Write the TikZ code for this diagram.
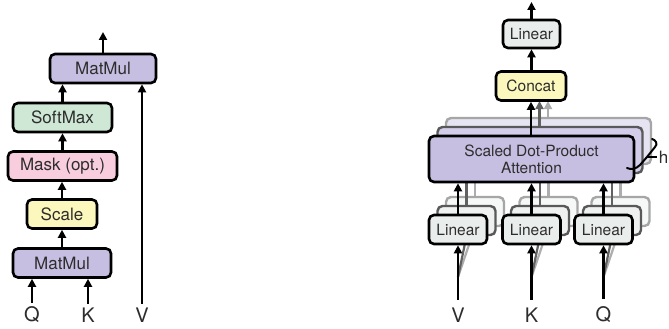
\documentclass[tikz,border=0pt]{standalone}
\usepackage{fontspec}
\setmainfont{TeX Gyre Heros}
\usetikzlibrary{arrows.meta}

\definecolor{mmfill}{RGB}{199,191,225}
\definecolor{mmfillB}{RGB}{212,205,233}
\definecolor{mmfillC}{RGB}{230,227,242}
\definecolor{smfill}{RGB}{206,232,213}
\definecolor{mkfill}{RGB}{248,205,222}
\definecolor{scfill}{RGB}{252,247,189}
\definecolor{lnfill}{RGB}{233,237,235}
\definecolor{lnfillB}{RGB}{238,241,240}
\definecolor{lnfillC}{RGB}{246,247,247}
\definecolor{txt}{RGB}{45,45,45}

\tikzset{
  blk/.style={draw=black, line width=2.6pt, rounded corners=5pt, text=txt,
              inner sep=0pt, minimum height=29pt},
  lfont/.style={font=\fontsize{17}{20}\selectfont},
  rfont/.style={font=\fontsize{15.5}{18}\selectfont},
  lbl/.style={text=txt, font=\fontsize{20}{22}\selectfont, inner sep=0pt},
  arr/.style={line width=2.2pt, -{Triangle[length=8pt,width=8pt]}},
  ghostB/.style={draw=black!65, line width=2.4pt, rounded corners=5pt},
  ghostC/.style={draw=black!35, line width=2.4pt, rounded corners=5pt},
  arrB/.style={arr, draw=black!62, fill=black!62},
  arrC/.style={arr, draw=black!32, fill=black!32},
}

\begin{document}
\begin{tikzpicture}[x=1pt, y=-1pt]
\clip (0,0) rectangle (669,329);

% ---------- Scaled dot-product attention ----------
\node[blk, lfont, fill=mmfill, minimum width=106pt] (mmtop) at (103,68.5) {MatMul};
\node[blk, lfont, fill=smfill, minimum width=99pt]  (soft)  at (62.5,117.5) {SoftMax};
\node[blk, lfont, fill=mkfill, minimum width=109pt] (mask)  at (62.5,166) {Mask (opt.)};
\node[blk, lfont, fill=scfill, minimum width=70pt]  (scale) at (62,214) {Scale};
\node[blk, lfont, fill=mmfill, minimum width=98pt]  (mmbot) at (62,263) {MatMul};

\node[lbl] (q1) at (32,315) {Q};
\node[lbl] (k1) at (88,315) {K};
\node[lbl] (v1) at (142,315) {V};
\coordinate (outL) at (103,32);

\draw[arr] (mmtop.north) -- (outL);
\draw[arr] (soft.north) -- (soft.north |- mmtop.south);
\draw[arr] (mask.north) -- (mask.north |- soft.south);
\draw[arr] (scale.north) -- (scale.north |- mask.south);
\draw[arr] (mmbot.north) -- (mmbot.north |- scale.south);
\draw[arr] (q1.north) ++(0,-4) -- (q1.north |- mmbot.south);
\draw[arr] (k1.north) ++(0,-4) -- (k1.north |- mmbot.south);
\draw[arr] (v1.north) ++(0,-4) -- (v1.north |- mmtop.south);

% ---------- Multi-head attention ----------
\node[lbl] (v2) at (458,315) {V};
\node[lbl] (k2) at (531.5,315) {K};
\node[lbl] (q2) at (603.5,315) {Q};
\foreach \s/\x in {v2/458,k2/531.5,q2/603.5}
  \coordinate (\s fork) at (\x,277);

% third head (furthest back)
\begin{scope}[shift={(17,-18)}]
  \node[ghostC, fill=mmfillC, minimum width=205pt, minimum height=46pt] (sdpaC) at (531.5,159) {};
  \foreach \x/\n in {458/vC,531.5/kC,603.5/qC}
    \node[ghostC, fill=lnfillC, minimum width=58pt, minimum height=29pt] (\n) at (\x,229.5) {};
\end{scope}
\foreach \n/\s in {vC/v2,kC/k2,qC/q2} {
  \draw[arrC] (\n.north) -- (\n.north |- sdpaC.south);
  \draw[arrC] (\s fork) -- (\n.south);
}
\draw[arrC] (sdpaC.north -| 548,0) -- (548,101);

% second head
\begin{scope}[shift={(8.5,-9)}]
  \node[ghostB, fill=mmfillB, minimum width=205pt, minimum height=46pt] (sdpaB) at (531.5,159) {};
  \foreach \x/\n in {458/vB,531.5/kB,603.5/qB}
    \node[ghostB, fill=lnfillB, minimum width=58pt, minimum height=29pt] (\n) at (\x,229.5) {};
\end{scope}
\foreach \n/\s in {vB/v2,kB/k2,qB/q2} {
  \draw[arrB] (\n.north) -- (\n.north |- sdpaB.south);
  \draw[arrB] (\s fork) -- (\n.south);
}
\draw[arrB] (sdpaB.north -| 539.5,0) -- (539.5,101);

% front head
\node[blk, rfont, fill=mmfill, minimum width=205pt, minimum height=46pt, align=center]
  (sdpa) at (531.5,159) {Scaled Dot-Product\\[-1pt]Attention};
\node[blk, rfont, fill=lnfill, minimum width=58pt] (linv) at (458,229.5) {Linear};
\node[blk, rfont, fill=lnfill, minimum width=58pt] (link) at (531.5,229.5) {Linear};
\node[blk, rfont, fill=lnfill, minimum width=58pt] (linq) at (603.5,229.5) {Linear};
\node[blk, rfont, fill=scfill, minimum width=70pt] (concat) at (531,86) {Concat};
\node[blk, rfont, fill=lnfill, minimum width=57pt, minimum height=28pt] (linout) at (531.5,34) {Linear};
\coordinate (outR) at (531.5,2);

\foreach \n/\s in {linv/v2,link/k2,linq/q2} {
  \draw[arr] ([yshift=8pt]\s.north) -- (\n.south);
  \draw[arr] (\n.north) -- (\n.north |- sdpa.south);
}
\draw[arr] (sdpa.north -| concat.south) -- (concat.south);
\draw[arr] (concat.north -| linout.south) -- (linout.south);
\draw[arr] (linout.north) -- (outR);

% head-count brace
\coordinate (bmid) at (647,157);
\node[text=txt, font=\fontsize{17}{20}\selectfont, inner sep=0pt, anchor=east] (hlbl) at (668.5,157) {h};
\draw[line width=2pt, line cap=round, line join=round]
  (652,139) .. controls (656,140) and (658,144) .. (655,147) -- (bmid)
  -- (640,165) .. controls (636,169) and (631,170) .. (627,168);
\draw[line width=1.2pt] (bmid) -- ([xshift=-1.5pt]hlbl.west);
\end{tikzpicture}
\end{document}
